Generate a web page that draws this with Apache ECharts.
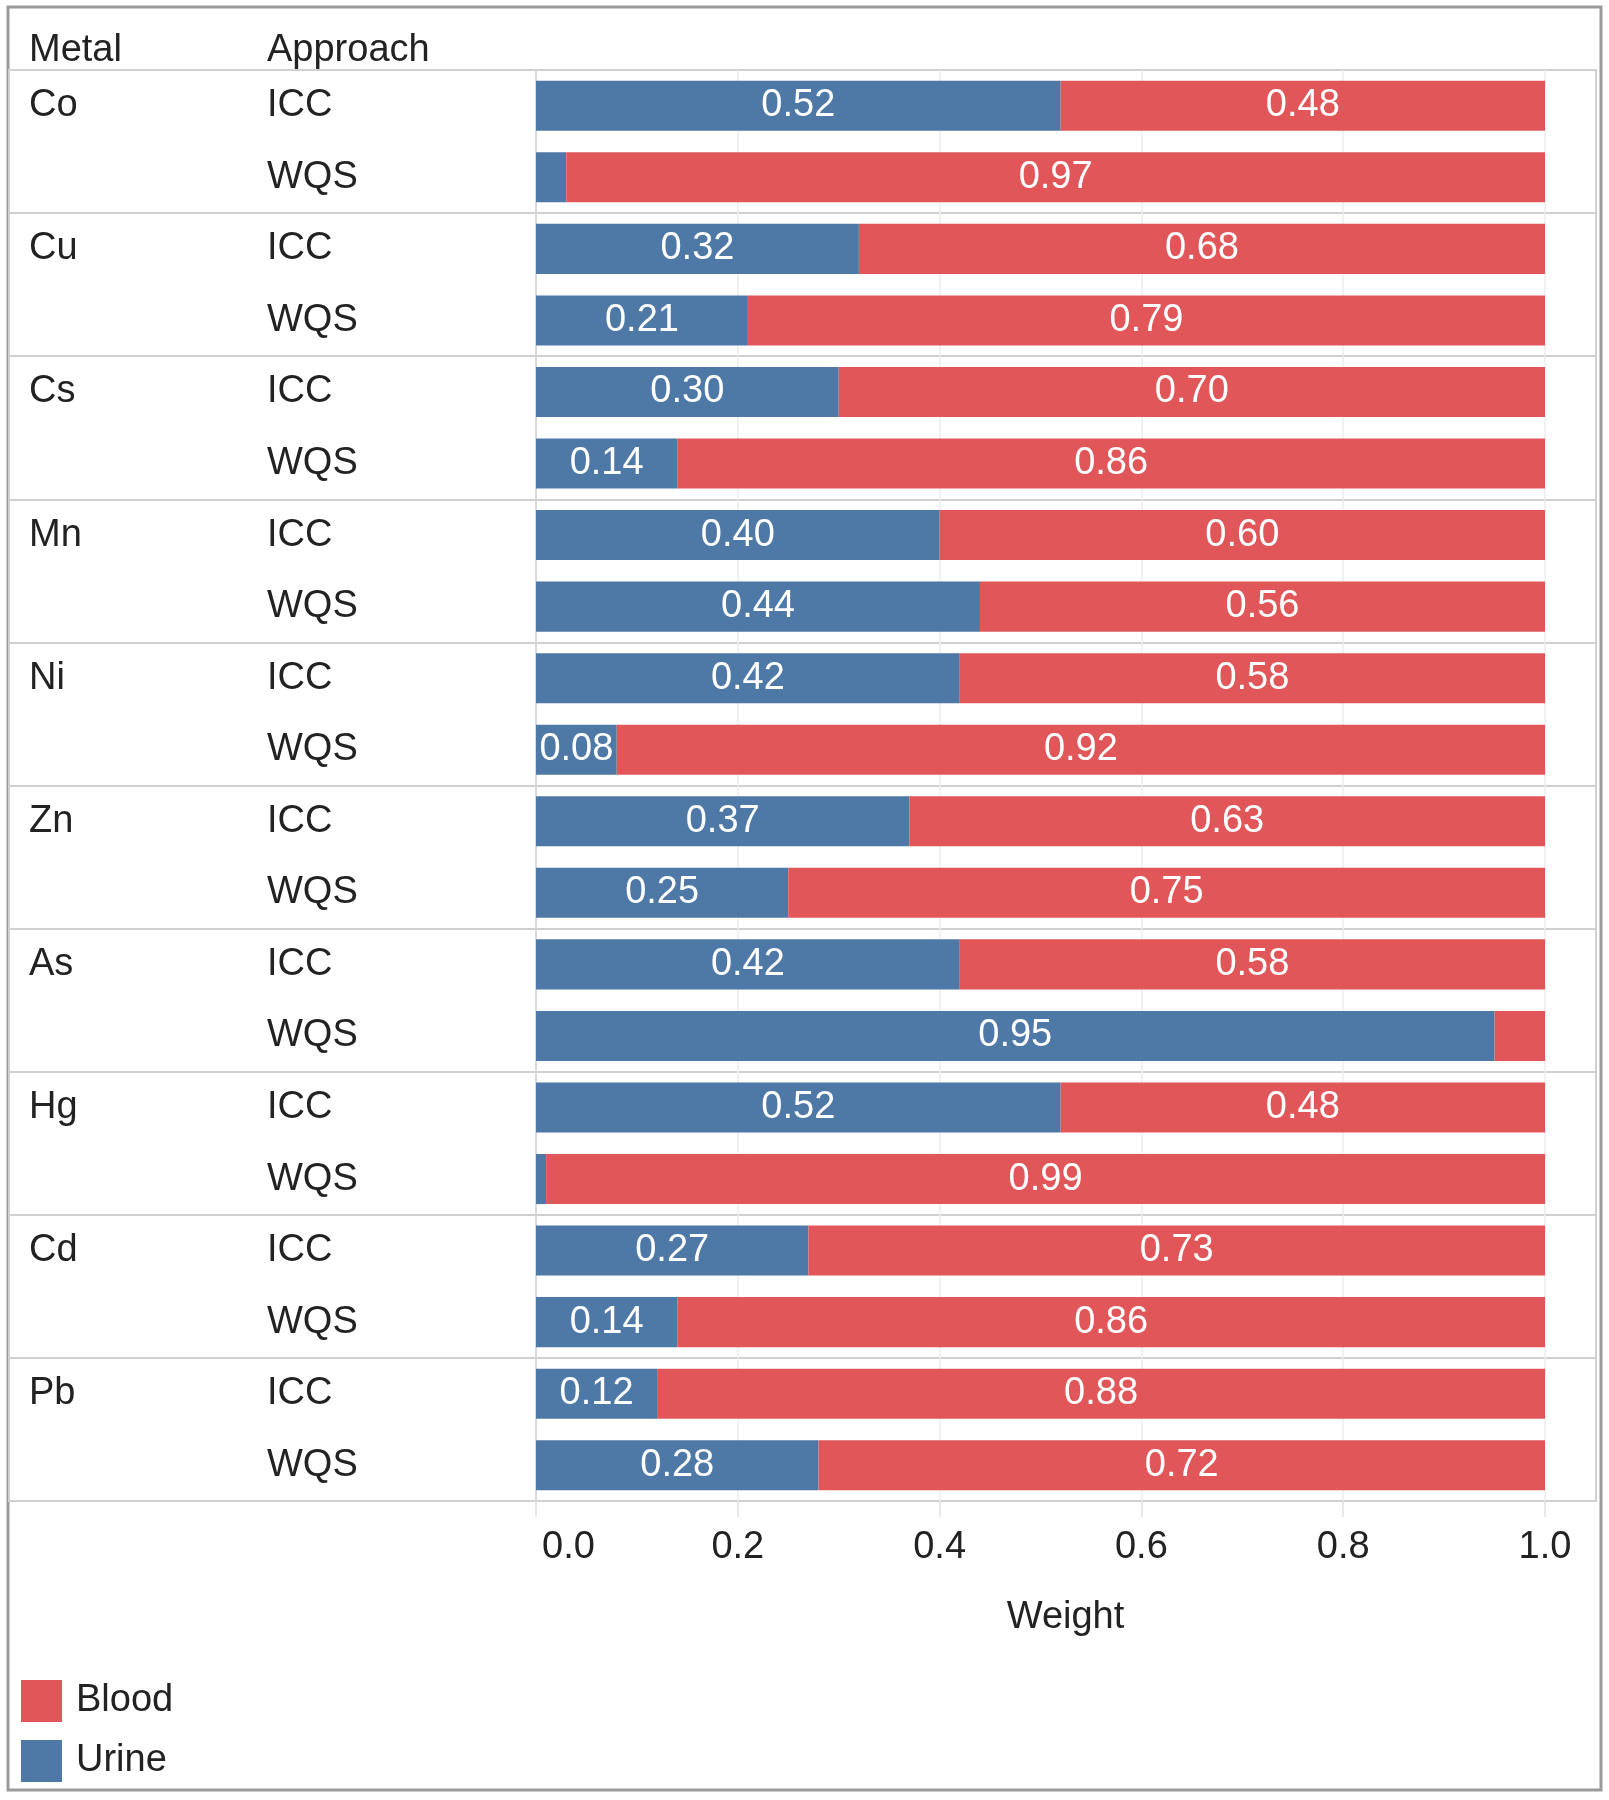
<!DOCTYPE html>
<html>
<head>
<meta charset="utf-8">
<script src="https://cdn.jsdelivr.net/npm/echarts@6/dist/echarts.min.js"></script>
<style>
html,body{margin:0;padding:0;background:#fff;}
#chart{width:1609px;height:1800px;}
</style>
</head>
<body>
<div id="chart"></div>
<script>
const metals = ['Co','Cu','Cs','Mn','Ni','Zn','As','Hg','Cd','Pb'];
const approaches = ['ICC','WQS'];
const urine = [0.52,0.03, 0.32,0.21, 0.30,0.14, 0.40,0.44, 0.42,0.08, 0.37,0.25, 0.42,0.95, 0.52,0.01, 0.27,0.14, 0.12,0.28];
const blood = [0.48,0.97, 0.68,0.79, 0.70,0.86, 0.60,0.56, 0.58,0.92, 0.63,0.75, 0.58,0.05, 0.48,0.99, 0.73,0.86, 0.88,0.72];
const seriesNames = ['Urine','Blood'];
const legendOrder = ['Blood','Urine'];
const axisTitle = 'Weight';

const categories = [];
metals.forEach(m => approaches.forEach(a => categories.push(m + '|' + a)));

const FONT = '"Liberation Sans", Arial, Helvetica, sans-serif';
const TXT = '#222';
const FS = 38;
const chart = echarts.init(document.getElementById('chart'), null, {renderer:'canvas'});

const labelFmt = p => (p.value < 0.06 ? '' : p.value.toFixed(2));

chart.setOption({
  animation: false,
  backgroundColor: '#fff',
  textStyle: {fontFamily: FONT},
  graphic: [
    {type:'rect', z:-10, shape:{x:8, y:7, width:1593, height:1783}, style:{fill:'none', stroke:'#9a9a9a', lineWidth:3}},
    {type:'text', style:{text:'Metal', x:29, y:51, font:FS + 'px ' + FONT, fill:TXT, verticalAlign:'middle'}},
    {type:'text', style:{text:'Approach', x:267, y:51, font:FS + 'px ' + FONT, fill:TXT, verticalAlign:'middle'}}
  ],
  legend: {
    data: legendOrder,
    orient: 'vertical',
    left: 16, top: 1675,
    itemWidth: 41, itemHeight: 42, itemGap: 18,
    icon: 'rect',
    selectedMode: false,
    textStyle: {fontSize: FS, color: TXT, fontFamily: FONT, padding:[0,0,0,9]}
  },
  grid: [
    {left: 9, top: 70, width: 1587, height: 1431, show: true, borderColor: '#d0d0d0', borderWidth: 2, backgroundColor:'transparent'},
    {left: 536, top: 70, width: 1009, height: 1431}
  ],
  xAxis: [
    {gridIndex:0, type:'value', min:0, max:1, show:false},
    {gridIndex:1, type:'value', min:0, max:1, interval:0.2,
     axisLine:{show:false},
     axisTick:{show:true, length:16, lineStyle:{color:'#e0e0e0', width:1.5}},
     splitLine:{show:true, lineStyle:{color:'#ececec', width:1.5}},
     axisLabel:{fontSize:FS, color:TXT, fontFamily:FONT, margin:28, alignMinLabel:'left',
       formatter: (v, i) => i === 0 ? '{m|' + v.toFixed(1) + '}' : v.toFixed(1),
       rich:{m:{fontSize:FS, color:TXT, fontFamily:FONT, padding:[0,0,0,6]}}},
     name: axisTitle, nameLocation:'middle', nameGap:98,
     nameTextStyle:{fontSize:FS, color:TXT, fontFamily:FONT, padding:[0,0,0,50]}}
  ],
  yAxis: [
    {gridIndex:0, type:'category', position:'left', offset:0, inverse:true, data:categories,
     axisLine:{show:false}, axisTick:{show:false},
     splitLine:{show:true, interval:(i) => i % 2 === 0, lineStyle:{color:'#d0d0d0', width:2}},
     axisLabel:{inside:true, margin:20, align:'left', fontSize:FS, color:TXT, fontFamily:FONT, interval:0,
       formatter:(v) => { const [m,a] = v.split('|'); return a === approaches[0] ? m : ''; }}},
    {gridIndex:0, type:'category', position:'left', offset:0, inverse:true, data:categories,
     axisLine:{show:false}, axisTick:{show:false}, splitLine:{show:false},
     axisLabel:{inside:true, margin:258, align:'left', fontSize:FS, color:TXT, fontFamily:FONT, interval:0,
       formatter:(v) => v.split('|')[1]}},
    {gridIndex:1, type:'category', inverse:true, data:categories,
     axisLine:{show:true, lineStyle:{color:'#d0d0d0', width:1.5}}, axisTick:{show:false},
     splitLine:{show:false}, axisLabel:{show:false}}
  ],
  series: [
    {name: seriesNames[0], type:'bar', stack:'w', xAxisIndex:1, yAxisIndex:2, data: urine,
     barWidth:'70%', itemStyle:{color:'#4e79a7'},
     label:{show:true, position:'inside', color:'#fff', fontSize:FS, fontFamily:FONT, formatter:labelFmt}},
    {name: seriesNames[1], type:'bar', stack:'w', xAxisIndex:1, yAxisIndex:2, data: blood,
     barWidth:'70%', itemStyle:{color:'#e15759'},
     label:{show:true, position:'inside', color:'#fff', fontSize:FS, fontFamily:FONT, formatter:labelFmt}}
  ]
});
</script>
</body>
</html>
